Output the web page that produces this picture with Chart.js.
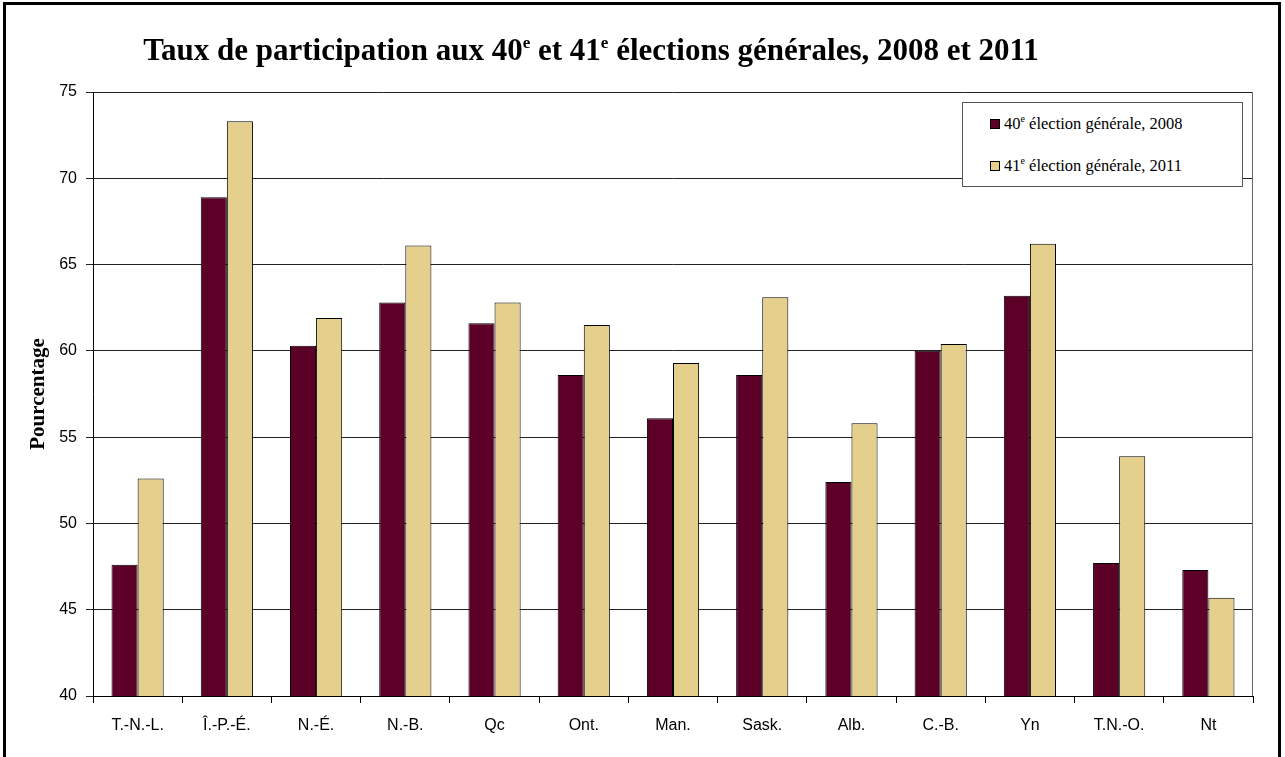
<!DOCTYPE html>
<html>
<head>
<meta charset="utf-8">
<script src="https://cdn.jsdelivr.net/npm/chart.js@4.4.1/dist/chart.umd.min.js"></script>
<style>
  html, body { margin: 0; padding: 0; background: #fff; }
  #wrap { position: relative; width: 1285px; height: 757px; overflow: hidden; }
  #c { position: absolute; left: 0; top: 0; }
  #legend {
    position: absolute; left: 962px; top: 102px; width: 281px; height: 85px;
    box-sizing: border-box; border: 1px solid #555; background: #fff;
    font-family: "Liberation Serif", "Times New Roman", serif; font-size: 16.5px; color: #000;
  }
  #legend .item { position: absolute; left: 27px; height: 20px; display: flex; align-items: center; white-space: nowrap; }
  #legend .sw { width: 8px; height: 8px; border: 1px solid #000; margin-right: 4px; flex: none; }
  #legend sup { font-size: 10px; vertical-align: 7px; line-height: 0; }
</style>
</head>
<body>
<div id="wrap">
  <canvas id="c" width="1285" height="757"></canvas>
  <div id="legend"></div>
</div>
<script>
// ---- Data ----
const categories = ['T.-N.-L.', 'Î.-P.-É.', 'N.-É.', 'N.-B.', 'Qc', 'Ont.', 'Man.', 'Sask.', 'Alb.', 'C.-B.', 'Yn', 'T.N.-O.', 'Nt'];
const turnout2008 = [47.6, 68.9, 60.3, 62.8, 61.6, 58.6, 56.1, 58.6, 52.4, 60.0, 63.2, 47.7, 47.3];
const turnout2011 = [52.6, 73.3, 61.9, 66.1, 62.8, 61.5, 59.3, 63.1, 55.8, 60.4, 66.2, 53.9, 45.7];
const seriesNames = ['40ᵉ élection générale, 2008', '41ᵉ élection générale, 2011'];
const yTicks = [40, 45, 50, 55, 60, 65, 70, 75];
const yAxisTitle = 'Pourcentage';
const titleSegments = [
  { text: 'Taux de participation aux 40', sup: false },
  { text: 'e', sup: true },
  { text: ' et 41', sup: false },
  { text: 'e', sup: true },
  { text: ' élections générales, 2008 et 2011', sup: false }
];
const colors = ['#5C0028', '#E4D08C'];

const SERIF = '"Liberation Serif", "Times New Roman", serif';
const SANS = '"Liberation Sans", Arial, sans-serif';

// Title with superscripts
const titlePlugin = {
  id: 'supTitle',
  afterDraw(chart) {
    const ctx = chart.ctx;
    ctx.save();
    ctx.fillStyle = '#000';
    ctx.textAlign = 'left';
    ctx.textBaseline = 'alphabetic';
    const big = 'bold 31px ' + SERIF;
    const small = 'bold 17px ' + SERIF;
    let total = 0;
    titleSegments.forEach(s => { ctx.font = s.sup ? small : big; total += ctx.measureText(s.text).width; });
    let x = 591 - total / 2;
    const base = 60;
    titleSegments.forEach(s => {
      ctx.font = s.sup ? small : big;
      ctx.fillText(s.text, x, s.sup ? base - 12 : base);
      x += ctx.measureText(s.text).width;
    });
    ctx.restore();
  }
};

// Right border of the plot area + outer frame
const framePlugin = {
  id: 'frame',
  beforeDatasetsDraw(chart) {
    const { ctx, chartArea } = chart;
    ctx.save();
    ctx.strokeStyle = '#666';
    ctx.lineWidth = 1;
    const xr = Math.round(chartArea.right) - 0.5;
    ctx.beginPath();
    ctx.moveTo(xr, chartArea.top);
    ctx.lineTo(xr, chartArea.bottom);
    ctx.stroke();
    ctx.restore();
  },
  afterDraw(chart) {
    const ctx = chart.ctx;
    ctx.save();
    ctx.strokeStyle = '#000';
    ctx.lineWidth = 3;
    ctx.strokeRect(4.5, 3.5, 1275, 800);
    ctx.restore();
  }
};

const chart = new Chart(document.getElementById('c'), {
  type: 'bar',
  data: {
    labels: categories,
    datasets: [
      { label: seriesNames[0], data: turnout2008, backgroundColor: colors[0], borderColor: '#000', borderWidth: 1 },
      { label: seriesNames[1], data: turnout2011, backgroundColor: colors[1], borderColor: '#000', borderWidth: 1 }
    ]
  },
  options: {
    responsive: false,
    animation: false,
    devicePixelRatio: 1,
    layout: { padding: { top: 92, right: 32, left: 0, bottom: 0 } },
    datasets: { bar: { categoryPercentage: 0.585, barPercentage: 1.0 } },
    plugins: {
      legend: { display: false },
      title: { display: false },
      tooltip: { enabled: false }
    },
    scales: {
      x: {
        offset: true,
        grid: { display: true, offset: true, drawOnChartArea: false, drawTicks: true, tickLength: 7, color: '#000' },
        border: { display: true, color: '#000', width: 1 },
        ticks: { color: '#000', font: { family: SANS, size: 16 }, padding: 13, autoSkip: false, maxRotation: 0 },
        afterFit(s) { s.height = 61; }
      },
      y: {
        min: 40, max: 75,
        afterBuildTicks(s) { s.ticks = yTicks.map(v => ({ value: v })); },
        grid: { color: '#222', lineWidth: 1, drawTicks: true, tickLength: 7 },
        border: { display: true, color: '#000', width: 1 },
        ticks: { color: '#000', font: { family: SANS, size: 16 }, padding: 9 },
        title: { display: true, text: yAxisTitle, color: '#000', font: { family: SERIF, size: 21, weight: 'bold' }, padding: { top: 26, bottom: 0 } },
        afterFit(s) { s.width = 93; }
      }
    }
  },
  plugins: [titlePlugin, framePlugin]
});

// HTML legend built from the datasets
const legendEl = document.getElementById('legend');
chart.data.datasets.forEach((ds, i) => {
  const item = document.createElement('div');
  item.className = 'item';
  item.style.top = (11 + i * 42) + 'px';
  const sw = document.createElement('span');
  sw.className = 'sw';
  sw.style.background = ds.backgroundColor;
  const txt = document.createElement('span');
  txt.innerHTML = ds.label.replace(/ᵉ/g, '<sup>e</sup>');
  item.appendChild(sw);
  item.appendChild(txt);
  legendEl.appendChild(item);
});
</script>
</body>
</html>
